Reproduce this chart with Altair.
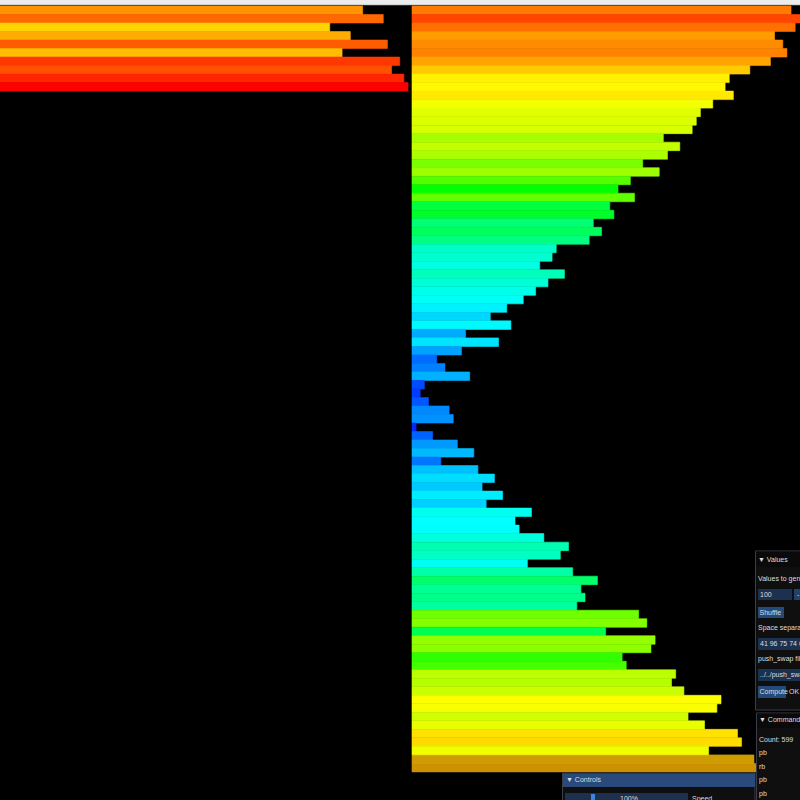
import altair as alt
import pandas as pd

# ---- data (push_swap values, 1..100) ----
stack_a = [92, 97, 93, 88, 90, 91, 87, 82, 77, 76, 78, 73, 70, 69, 68, 61, 65, 62, 56, 60,
           53, 50, 54, 48, 49, 44, 46, 43, 35, 34, 31, 37, 33, 30, 27, 23, 19, 24, 13, 21,
           12, 6, 8, 14, 3, 2, 4, 9, 10, 1, 5, 11, 15, 7, 16, 20, 17, 22, 18, 29,
           25, 26, 32, 38, 36, 28, 39, 45, 41, 42, 40, 55, 57, 47, 59, 58, 51, 52, 64, 63,
           66, 75, 74, 67, 71, 79, 80, 72, 83, 85]
stack_b = [89, 94, 81, 86, 95, 84, 98, 96, 99, 100]

color_stops = [0, 25, 50, 75, 100]
color_range = ["#0000ff", "#00ffff", "#00ff00", "#ffff00", "#ff0000"]

# ---- layout constants (pixels) ----
W, H = 800, 800
PX_PER_UNIT = 4.12
ROW_PX = 8.51
TOP_PX = 6
ORIGIN_A = 412 / PX_PER_UNIT
ORIGIN_B = -4 / PX_PER_UNIT

rows = [{"stack": "A", "slot": i, "value": v} for i, v in enumerate(stack_a)] + \
       [{"stack": "B", "slot": i, "value": v} for i, v in enumerate(stack_b)]
df = pd.DataFrame(rows)

xscale = alt.Scale(domain=[0, W / PX_PER_UNIT], nice=False, zero=False)
yscale = alt.Scale(domain=[-TOP_PX / ROW_PX, (H - TOP_PX) / ROW_PX], nice=False, zero=False, reverse=True)
cscale = alt.Scale(domain=color_stops, range=color_range)

bars = alt.Chart(df).transform_calculate(
    x0=f"datum.stack == 'A' ? {ORIGIN_A} : {ORIGIN_B}",
).transform_calculate(
    x1="datum.x0 + datum.value",
    y1="datum.slot + 1",
).mark_rect(clip=True, strokeWidth=0.6).encode(
    x=alt.X("x0:Q", scale=xscale, axis=None),
    x2="x1:Q",
    y=alt.Y("slot:Q", scale=yscale, axis=None),
    y2="y1:Q",
    color=alt.Color("value:Q", scale=cscale, legend=None),
    stroke=alt.Stroke("value:Q", scale=cscale, legend=None),
    opacity=alt.condition("datum.stack == 'A' && datum.slot >= 88", alt.value(0.8), alt.value(1.0)),
)

dummy = pd.DataFrame({"k": [0]})
FONT = "Liberation Sans, Arial, sans-serif"


def box(x1, x2, y1, y2, fill, stroke=None):
    kw = dict(fill=fill)
    if stroke:
        kw.update(stroke=stroke, strokeWidth=1)
    return alt.Chart(dummy).mark_rect(**kw).encode(
        x=alt.value(x1), x2=alt.value(x2), y=alt.value(y1), y2=alt.value(y2))


def label(x, y, text, color="#dedede", size=7):
    return alt.Chart(dummy).mark_text(align="left", baseline="middle", font=FONT,
                                      fontSize=size, color=color).encode(
        x=alt.value(x), y=alt.value(y), text=alt.value(text))


chrome = [
    # window title strip
    box(0, 800, 0, 5, "#ececec"),
    box(0, 800, 4.5, 5.2, "#bcbcbc"),
    # Values window
    box(755.5, 806, 551, 710, "#0f0f0f", "#3c3c46"),
    box(756, 806, 551.5, 567, "#0a0a0a"),
    label(758, 559.5, "▼ Values"),
    label(758, 579, "Values to generate"),
    box(758, 792, 589, 600, "#1c3150"),
    label(760, 594.5, "100"),
    box(794, 810, 589, 600, "#22426a"),
    label(797, 594.5, "-"),
    box(758, 784, 607, 618, "#264a78"),
    label(759.5, 612.5, "Shuffle"),
    label(758, 628, "Space separated values"),
    box(758, 810, 638, 650, "#1c3150"),
    label(760, 644, "41 96 75 74 6"),
    label(758, 659, "push_swap file"),
    box(758, 810, 669, 681, "#1c3150"),
    label(760, 675, "../../push_swap"),
    box(758, 786, 686, 698, "#264a78"),
    label(759.5, 692, "Compute"),
    label(789, 692, "OK"),
    # Commands window
    box(756.5, 806, 713, 806, "#0f0f0f", "#3c3c46"),
    box(757, 806, 713.5, 728, "#0a0a0a"),
    label(759, 720, "▼ Commands"),
    label(759, 739.5, "Count: 599"),
    label(759, 753, "pb"),
    label(759, 767, "rb"),
    label(759, 780, "pb"),
    label(759, 794, "pb"),
    # Controls window
    box(562.5, 755, 773, 806, "#0f0f0f", "#3c3c46"),
    box(563, 755, 773.5, 787, "#294a7a"),
    label(566, 780, "▼ Controls"),
    box(565, 688, 793, 806, "#1c3150"),
    box(591, 595, 794, 806, "#3d85e0"),
    label(620, 799, "100%"),
    label(692, 799, "Speed"),
]

chart = alt.layer(bars, *chrome).properties(
    width=W, height=H, background="black", padding=0,
    autosize=alt.AutoSizeParams(type="none"),
).configure_view(strokeWidth=0)

chart.save("out.html", embed_options={"renderer": "svg", "actions": False})
